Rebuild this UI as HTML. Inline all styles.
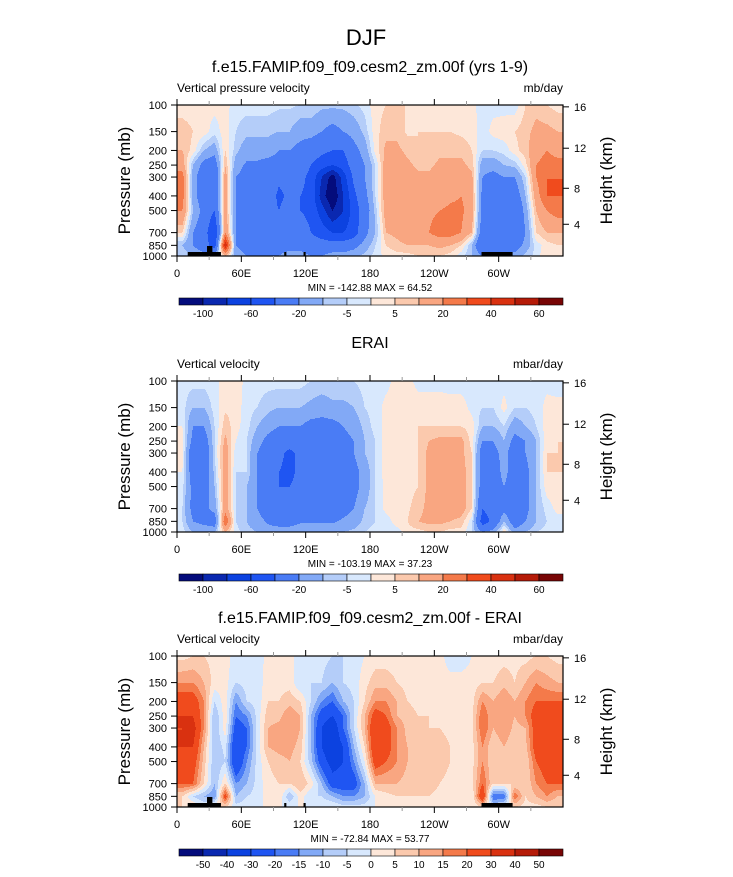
<!DOCTYPE html>
<html><head><meta charset="utf-8"><style>
html,body{margin:0;padding:0;background:#fff;}
body{width:733px;height:872px;overflow:hidden;font-family:"Liberation Sans",sans-serif;}
svg text{font-family:"Liberation Sans",sans-serif;}
</style></head><body>
<svg id="root" width="733" height="872" viewBox="0 0 733 872" xmlns="http://www.w3.org/2000/svg">
<text x="366" y="45" text-anchor="middle" font-size="22">DJF</text>
</svg>
<script>
// ---- data ----
var levels = [100,150,200,250,300,400,500,700,850,1000];
var lonCenters = [5,15,25,35,45,55,65,75,85,95,105,115,125,135,145,155,165,175,185,195,205,215,225,235,245,255,265,275,285,295,305,315,325,335,345,355];
var xTickLabels = ["0","60E","120E","180","120W","60W"];
var xTickLons = [0,60,120,180,240,300];
var pTickLabels = [100,150,200,250,300,400,500,700,850,1000];
var zTickLabels = [16,12,8,4];
var levelsMain = [-100,-80,-60,-40,-20,-10,-5,0,5,10,20,30,40,50,60];
var labelsMain = ["-100","","-60","","-20","","-5","","5","","20","","40","","60"];
var levelsDiff = [-50,-40,-30,-20,-15,-10,-5,0,5,10,15,20,30,40,50];
var labelsDiff = ["-50","-40","-30","-20","-15","-10","-5","0","5","10","15","20","30","40","50"];
var palette = ["#040c7c","#0a28b0","#0c42e0","#1f55f2","#4a7cf5","#82a9f6","#b4cdf9","#d8e8fd","#fde7d9","#fbc9ad","#f9a681","#f47a4a","#f04b1d","#d93110","#b51b08","#780505"];

// column profiles (100 ... 1000 mb) for each longitude
var modelField = [
[2,8,10,15,25,25,20,5,-10,-5],[2,5,3,-10,-15,-15,-10,-20,-20,-10],[2,3,-10,-25,-30,-30,-25,-30,-30,-15],
[2,-3,-15,-30,-40,-40,-40,-60,-50,-15],[2,3,5,10,15,15,15,20,50,10],[-3,-5,-8,-15,-20,-20,-20,-20,-20,-15],
[-3,-8,-15,-22,-25,-25,-30,-25,-25,-20],[-3,-8,-15,-22,-25,-30,-30,-25,-25,-20],[-3,-8,-15,-25,-25,-25,-30,-25,-25,-20],
[-4,-10,-20,-25,-35,-45,-40,-30,-25,-20],[-4,-10,-20,-30,-30,-35,-30,-25,-25,-15],[-5,-15,-25,-30,-35,-40,-40,-30,-25,-15],
[-5,-15,-30,-40,-45,-45,-45,-40,-30,-20],[-8,-20,-35,-50,-80,-90,-70,-50,-30,-20],[-8,-25,-40,-60,-110,-120,-100,-60,-30,-15],
[-8,-20,-40,-50,-70,-80,-80,-60,-30,-15],[-6,-15,-25,-30,-35,-45,-50,-50,-25,-12],[-3,-8,-15,-20,-20,-25,-30,-25,-15,-8],
[3,3,2,-5,-5,-5,-8,-10,-5,-3],[5,8,12,15,15,15,15,10,5,2],[5,8,12,15,15,15,15,12,8,3],
[5,4,8,12,15,15,15,15,10,3],[5,5,5,8,12,15,15,15,10,5],[4,5,5,8,12,15,18,20,10,5],
[4,5,8,12,15,15,20,25,12,5],[4,5,8,12,15,18,22,25,10,3],[3,4,8,12,15,20,22,20,5,-3],
[2,3,5,8,12,15,15,10,-10,-10],[-3,-3,-5,-15,-20,-25,-25,-30,-40,-20],[-2,2,-5,-15,-25,-30,-30,-35,-40,-20],
[-2,3,-3,-10,-20,-30,-30,-35,-30,-15],[-3,5,3,-8,-20,-30,-40,-40,-30,-15],[5,8,8,3,-5,-10,-15,-20,-15,-8],
[8,12,15,20,20,15,10,5,-3,-3],[5,12,20,25,30,30,20,10,3,5],[3,10,15,25,30,30,25,10,5,3]];

var eraiField = [
[-3,-3,0,3,2,0,-3,-5,-5,-3],[-3,-10,-20,-25,-35,-30,-25,-25,-20,-10],[-3,-10,-20,-30,-35,-30,-30,-25,-25,-10],
[-2,-3,-5,-5,-5,-8,-10,-15,-30,-10],[3,4,8,12,15,15,15,15,30,10],[5,3,2,0,-3,-5,-5,-5,-5,-3],
[-3,-3,-3,-5,-5,-5,-10,-10,-10,-8],[-3,-5,-10,-15,-20,-20,-20,-20,-15,-10],[-3,-8,-15,-25,-30,-30,-30,-30,-22,-15],
[-3,-10,-20,-30,-35,-40,-40,-35,-25,-15],[-3,-10,-20,-30,-45,-45,-40,-30,-25,-15],[-3,-10,-20,-30,-35,-35,-35,-30,-22,-12],
[-5,-12,-25,-30,-35,-40,-40,-30,-22,-12],[-5,-15,-25,-30,-35,-40,-40,-30,-22,-12],[-5,-12,-25,-30,-35,-35,-35,-30,-22,-12],
[-5,-12,-20,-25,-30,-35,-30,-25,-18,-10],[-5,-10,-15,-20,-20,-25,-25,-20,-15,-8],[-3,-5,-8,-10,-10,-15,-15,-10,-8,-5],
[-3,-3,-3,-5,-5,-5,-5,-5,-5,-3],[-2,2,2,3,3,3,2,2,-3,-3],[2,3,3,3,5,5,3,3,3,-3],
[2,3,3,3,3,3,3,4,5,3],[-2,3,5,5,5,5,5,8,10,3],[-2,3,5,10,12,12,12,12,12,5],
[-2,3,5,12,12,12,12,12,12,5],[-3,3,5,12,12,14,14,14,10,3],[-3,3,5,12,12,14,14,14,8,3],
[-3,-2,3,3,5,5,5,5,-3,-5],[-3,-5,-10,-20,-30,-30,-30,-40,-50,-20],[-3,-5,-10,-20,-25,-30,-30,-30,-35,-15],
[-2,2,-5,-10,-15,-15,-20,-25,-10,5],[-3,-5,-15,-25,-30,-30,-30,-30,-30,-15],[-3,-5,-10,-20,-20,-25,-25,-25,-20,-10],
[-3,-3,-5,-10,-10,-10,-10,-10,-10,-5],[-2,2,3,3,5,5,3,-3,-5,-3],[-3,2,3,5,5,5,3,2,-3,-3]];

var diffField = [
[3,15,25,30,30,30,25,20,5,5],[5,15,25,30,35,30,25,20,-5,5],[5,10,15,15,15,10,8,5,-10,0],
[3,3,-5,-10,-10,-10,-10,-10,-15,5],[3,2,3,3,3,-3,-5,5,25,5],[-3,-5,-15,-20,-25,-30,-30,-15,-10,-3],
[-3,-3,-5,-15,-20,-20,-15,-10,-5,-2],[-3,-3,-3,-3,-3,-3,-3,-3,-3,0],[2,3,5,8,10,10,5,3,3,0],
[2,3,5,8,12,12,8,5,5,0],[2,3,8,15,15,12,10,5,-10,0],[-3,-5,5,10,10,8,5,10,3,0],
[-3,-5,-5,-10,-10,-10,-8,3,-5,0],[-3,-5,-15,-25,-30,-30,-25,-10,-5,0],[-5,-10,-20,-30,-40,-40,-35,-25,-10,0],
[-5,-5,-10,-20,-20,-30,-30,-25,-15,-3],[-3,-3,-5,-5,-5,-10,-15,-25,-15,-3],[0,3,5,10,10,5,0,-10,-10,-3],
[2,8,15,25,30,30,25,10,0,0],[2,8,15,20,25,25,20,10,3,0],[2,5,10,10,15,15,15,10,5,2],
[2,3,5,8,8,10,10,8,5,2],[2,3,3,5,8,8,8,8,5,2],[2,2,3,5,5,8,8,8,5,2],
[2,2,3,3,5,8,8,5,3,2],[-3,2,3,3,3,5,5,3,3,0],[-3,2,3,3,3,3,3,3,3,0],
[0,2,3,3,3,3,3,3,0,0],[2,5,15,20,20,15,15,20,30,5],[2,5,10,10,10,5,5,5,-20,-5],
[3,8,15,15,15,10,5,5,-20,0],[3,5,10,10,8,5,5,5,20,5],[3,10,15,15,10,8,5,5,5,3],
[5,15,20,25,25,25,20,15,10,3],[5,12,20,25,30,30,25,20,15,5],[3,10,20,25,25,25,25,20,10,5]];

var panels = [
 {top:105, field:modelField, lv:levelsMain, lab:labelsMain, title:"f.e15.FAMIP.f09_f09.cesm2_zm.00f (yrs 1-9)", left:"Vertical pressure velocity", right:"mb/day", minmax:"MIN = -142.88  MAX =  64.52", land:true, key:"model"},
 {top:381, field:eraiField, lv:levelsMain, lab:labelsMain, title:"ERAI", left:"Vertical velocity", right:"mbar/day", minmax:"MIN = -103.19  MAX =  37.23", land:false, key:"erai"},
 {top:656, field:diffField, lv:levelsDiff, lab:labelsDiff, title:"f.e15.FAMIP.f09_f09.cesm2_zm.00f - ERAI", left:"Vertical velocity", right:"mbar/day", minmax:"MIN = -72.84  MAX =  53.77", land:true, key:"diff"}
];

// ---- scales ----
var X0 = 177, X1 = 563, PH = 151;
function xScale(lon){ return X0 + lon/360*(X1-X0); }
function yScale(p, top){ return top + Math.log10(p/100)*PH; }
function zToP(z){ return z<=11 ? 1013.25*Math.pow(1-z/44.33,5.255) : 226.3*Math.exp(-(z-11)/6.3416); }

var NS = "http://www.w3.org/2000/svg";
var root = document.getElementById("root");
function mk(tag, attrs, parent){
  var e = document.createElementNS(NS, tag);
  for (var k in attrs) e.setAttribute(k, attrs[k]);
  (parent||root).appendChild(e);
  return e;
}
function txt(x,y,s,size,anchor,parent){
  var t = mk("text",{x:x,y:y,"font-size":size,"text-anchor":anchor||"start"},parent);
  t.textContent = s; return t;
}

function sample(field, lon, p){
  var c = lon/10 - 0.5; if (c<0) c=0; if (c>35) c=35;
  var c0 = Math.floor(c), c1 = Math.min(35,c0+1), fc = c-c0;
  var lp = Math.log(p), r0 = 0;
  while (r0 < levels.length-2 && Math.log(levels[r0+1]) < lp) r0++;
  var fr = (lp-Math.log(levels[r0]))/(Math.log(levels[r0+1])-Math.log(levels[r0]));
  if (fr<0) fr=0; if (fr>1) fr=1;
  var a = field[c0][r0]*(1-fc)+field[c1][r0]*fc;
  var b = field[c0][r0+1]*(1-fc)+field[c1][r0+1]*fc;
  return a*(1-fr)+b*fr;
}
function colorIdx(v, lv){ var i=0; while(i<lv.length && v>=lv[i]) i++; return i; }

panels.forEach(function(P, pi){
  var top = P.top, bot = top+PH;
  var g = mk("g",{});
  
  
  var t1 = txt(370, top-33, P.title, 16, "middle", g);
  
  
  var t2 = txt(177, top-13, P.left, 12, "start", g);
  
  
  var t3 = txt(563, top-13, P.right, 12, "end", g);
  
  

  // field
  var fg = mk("g",{"shape-rendering":"crispEdges"}, g);
  
  
  for (var y=top; y<bot; y++){
    var p = 100*Math.pow(10,(y+0.5-top)/PH);
    var runStart = X0, runC = -1;
    for (var x=X0; x<=X1; x++){
      var ci = -2;
      if (x<X1){ var lon=(x+0.5-X0)/(X1-X0)*360; ci = colorIdx(sample(P.field,lon,p),P.lv); }
      if (ci!==runC){
        if (runC>=0){
          var r = mk("rect",{x:runStart,y:y,width:x-runStart,height:1,fill:palette[runC]},fg);
          
          
        }
        runStart = x; runC = ci;
      }
    }
  }
  // land mask
  if (P.land){
    var boxes = [[10,41,252],[28,33,246],[100,102,252],[118,120,252],[284,313,252]];
    boxes.forEach(function(b){
      var r = mk("rect",{x:xScale(b[0]),y:top+(b[2]-105),width:xScale(b[1])-xScale(b[0]),height:bot-(top+(b[2]-105)),fill:"#000"},g);
      
      
    });
  }
  // frame
  var fr = mk("rect",{x:X0,y:top,width:X1-X0,height:PH,fill:"none",stroke:"#000","stroke-width":1.2},g);
  
  
  // x ticks
  for (var lon=0; lon<360; lon+=30){
    var major = lon%60===0, xx = xScale(lon), len = major?6:4;
    mk("line",{x1:xx,x2:xx,y1:bot,y2:bot+len,stroke:major?"#000":"#999","stroke-width":1},g);
    mk("line",{x1:xx,x2:xx,y1:top,y2:top-len,stroke:major?"#000":"#999","stroke-width":1},g);
  }
  xTickLons.forEach(function(lon,i){
    var t = txt(xScale(lon), bot+21, xTickLabels[i], 11, "middle", g);
    
    
  });
  // pressure ticks
  pTickLabels.forEach(function(pv){
    var yy = yScale(pv, top);
    mk("line",{x1:X0-6,x2:X0,y1:yy,y2:yy,stroke:"#000"},g);
    var t = txt(X0-10, yy+4, String(pv), 11, "end", g);
    
    
  });
  zTickLabels.forEach(function(z){
    var yy = yScale(zToP(z), top);
    mk("line",{x1:X1,x2:X1+6,y1:yy,y2:yy,stroke:"#000"},g);
    var t = txt(X1+11, yy+4, String(z), 11, "start", g);
    
    
  });
  var ya = txt(0,0,"Pressure (mb)",17,"middle",g);
  ya.setAttribute("transform","translate(130,"+(top+PH/2)+") rotate(-90)");
  
  
  var za = txt(0,0,"Height (km)",17,"middle",g);
  za.setAttribute("transform","translate(612,"+(top+PH/2)+") rotate(-90)");
  
  
  var mm = txt(370, bot+35, P.minmax, 10, "middle", g);
  
  
  // colorbar
  var cbY = top+193, cbX = 179, bw = 24;
  var cb = mk("g",{}, g);
  
  
  palette.forEach(function(c,i){
    var r = mk("rect",{x:cbX+i*bw,y:cbY,width:bw,height:7,fill:c,stroke:"#000","stroke-width":0.6},cb);
    
    
  });
  P.lab.forEach(function(s,i){
    if (!s) return;
    var t = txt(cbX+(i+1)*bw, cbY+19, s, 10, "middle", cb);
    
    
  });
});
</script>
</body></html>
